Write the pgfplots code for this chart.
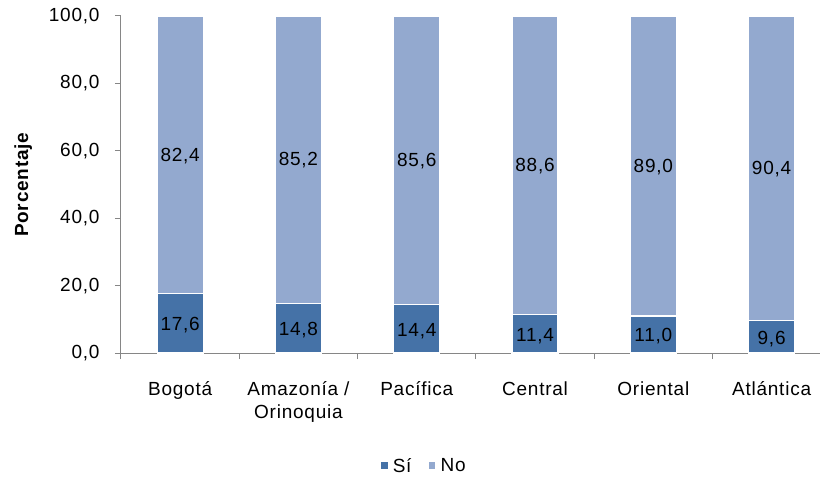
\documentclass[border=0pt]{standalone}
\usepackage{pgfplots}
\pgfplotsset{compat=1.18}
\usepackage{pgfplotstable}
\usepackage{fontspec}
\setmainfont{Liberation Sans}[LetterSpace=4]
\definecolor{si}{RGB}{69,114,167}
\definecolor{no}{RGB}{147,169,207}
\definecolor{axgray}{RGB}{134,134,134}
\pgfplotstableread{
x Si No
0 17.6 82.4
1 14.8 85.2
2 14.4 85.6
3 11.4 88.6
4 11.0 89.0
5 9.6 90.4
}\data
\newcommand{\lblfont}{\fontsize{19}{23}\selectfont}
\begin{document}
\begin{tikzpicture}
\useasboundingbox (-121pt,-126pt) rectangle (699pt,353pt);
\begin{axis}[
  at={(0,0)}, anchor=south west,
  scale only axis, width=699pt, height=337pt,
  xmin=-0.5, xmax=5.409, ymin=0, ymax=100,
  ybar stacked, bar width=46pt,
  axis x line*=bottom, axis y line*=left,
  axis line style={axgray, line width=1pt},
  tick align=outside,
  ytick={0,20,...,100},
  major tick length=6pt, minor tick length=6pt,
  every major y tick/.style={axgray, line width=1pt},
  xtick={0,...,5},
  xticklabels={Bogotá, {Amazonía /\\Orinoquia}, Pacífica, Central, Oriental, Atlántica},
  major x tick style={draw=none},
  minor xtick={-0.5,0.5,...,4.5},
  minor x tick style={axgray, line width=1pt},
  xticklabel style={align=center, font=\lblfont, text=black, yshift=-19pt},
  yticklabel style={font=\lblfont, text=black, xshift=-12pt, /pgf/number format/.cd, fixed, fixed zerofill, precision=1, use comma, assume math mode=true},
  ylabel={\textbf{Porcentaje}},
  ylabel style={at={(axis description cs:-0.140,0.5)}, anchor=center, font=\lblfont},
  legend style={at={(0.433,-0.335)}, anchor=center, draw=none, legend columns=2, font=\lblfont, /tikz/every even column/.append style={column sep=14pt}},
  legend image code/.code={\fill[#1] (0pt,-4pt) rectangle (8pt,4pt); \path (10pt,0pt);},
]
\addplot[fill=si, draw=white, line width=1.2pt,
  visualization depends on={\thisrow{Si} \as \myval},
  nodes near coords={\pgfmathprintnumber[fixed,fixed zerofill,precision=1,use comma,assume math mode=true]{\myval}},
  every node near coord/.append style={anchor=center, yshift=-2pt, font=\lblfont, text=black}
] table[x=x,y=Si]{\data};
\addplot[fill=no, draw=white, line width=1.2pt,
  visualization depends on={\thisrow{No} \as \myval},
  nodes near coords={\pgfmathprintnumber[fixed,fixed zerofill,precision=1,use comma,assume math mode=true]{\myval}},
  every node near coord/.append style={anchor=center, yshift=-1pt, font=\lblfont, text=black}
] table[x=x,y=No]{\data};
\legend{Sí, No}
\end{axis}
\end{tikzpicture}
\end{document}
